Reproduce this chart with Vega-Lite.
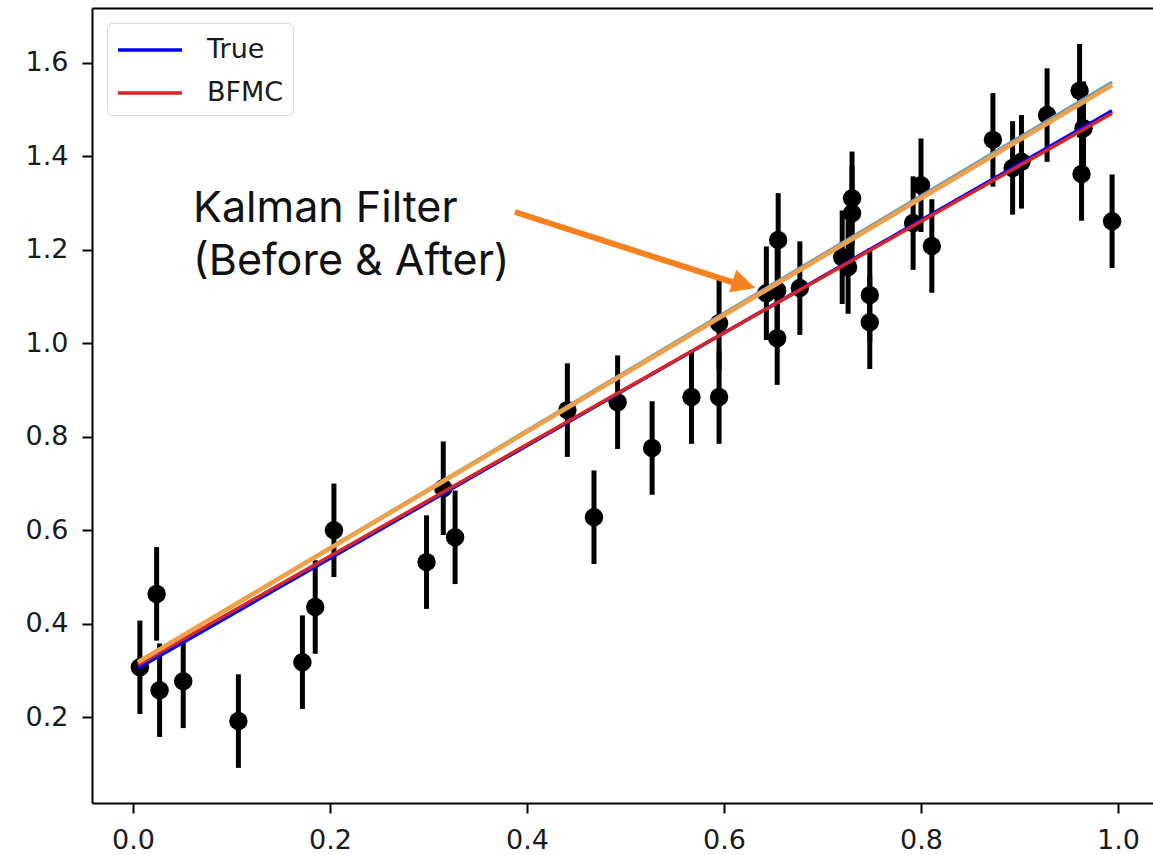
{
  "$schema": "https://vega.github.io/schema/vega-lite/v6.json",
  "autosize": {"type": "none"},
  "padding": {"left": 92, "top": 8, "right": 0, "bottom": 52},
  "width": 1061,
  "height": 795,
  "background": "white",
  "config": {
    "view": {"stroke": null},
    "axis": {
      "grid": false,
      "title": null,
      "domainColor": "black",
      "domainWidth": 2,
      "tickColor": "black",
      "tickWidth": 2,
      "tickSize": 10,
      "labelFont": "DejaVu Sans",
      "labelFontSize": 27,
      "labelColor": "#1a1a1a",
      "labelPadding": 14
    },
    "legend": {
      "orient": "top-left",
      "offset": 15,
      "title": null,
      "fillColor": "white",
      "strokeColor": "#d9d9d9",
      "cornerRadius": 5,
      "padding": 9,
      "symbolType": "M-1,0H3",
      "symbolSize": 1024,
      "symbolStrokeWidth": 3.5,
      "symbolFillColor": "transparent",
      "labelFont": "DejaVu Sans",
      "labelFontSize": 27,
      "labelColor": "#1a1a1a",
      "labelOffset": 55,
      "rowPadding": 12
    }
  },
  "datasets": {
    "obs": [
      {"x": 0.007, "y": 0.307, "err": 0.1},
      {"x": 0.024, "y": 0.464, "err": 0.1},
      {"x": 0.027, "y": 0.258, "err": 0.1},
      {"x": 0.051, "y": 0.277, "err": 0.1},
      {"x": 0.107, "y": 0.192, "err": 0.1},
      {"x": 0.172, "y": 0.318, "err": 0.1},
      {"x": 0.185, "y": 0.436, "err": 0.1},
      {"x": 0.204, "y": 0.600, "err": 0.1},
      {"x": 0.298, "y": 0.532, "err": 0.1},
      {"x": 0.315, "y": 0.690, "err": 0.1},
      {"x": 0.327, "y": 0.585, "err": 0.1},
      {"x": 0.441, "y": 0.857, "err": 0.1},
      {"x": 0.468, "y": 0.628, "err": 0.1},
      {"x": 0.492, "y": 0.874, "err": 0.1},
      {"x": 0.527, "y": 0.776, "err": 0.1},
      {"x": 0.567, "y": 0.885, "err": 0.1},
      {"x": 0.595, "y": 0.885, "err": 0.1},
      {"x": 0.595, "y": 1.043, "err": 0.1},
      {"x": 0.643, "y": 1.107, "err": 0.1},
      {"x": 0.655, "y": 1.221, "err": 0.1},
      {"x": 0.654, "y": 1.113, "err": 0.1},
      {"x": 0.654, "y": 1.011, "err": 0.1},
      {"x": 0.677, "y": 1.118, "err": 0.1},
      {"x": 0.720, "y": 1.184, "err": 0.1},
      {"x": 0.730, "y": 1.310, "err": 0.1},
      {"x": 0.730, "y": 1.278, "err": 0.1},
      {"x": 0.726, "y": 1.163, "err": 0.1},
      {"x": 0.748, "y": 1.103, "err": 0.1},
      {"x": 0.748, "y": 1.045, "err": 0.1},
      {"x": 0.792, "y": 1.257, "err": 0.1},
      {"x": 0.800, "y": 1.338, "err": 0.1},
      {"x": 0.811, "y": 1.208, "err": 0.1},
      {"x": 0.873, "y": 1.435, "err": 0.1},
      {"x": 0.893, "y": 1.375, "err": 0.1},
      {"x": 0.902, "y": 1.388, "err": 0.1},
      {"x": 0.928, "y": 1.488, "err": 0.1},
      {"x": 0.961, "y": 1.540, "err": 0.1},
      {"x": 0.965, "y": 1.460, "err": 0.1},
      {"x": 0.963, "y": 1.362, "err": 0.1},
      {"x": 0.994, "y": 1.261, "err": 0.1}
    ],
    "fits": [
      {"series": "True", "x": 0.005, "y": 0.305},
      {"series": "True", "x": 0.994, "y": 1.497},
      {"series": "BFMC", "x": 0.005, "y": 0.312},
      {"series": "BFMC", "x": 0.994, "y": 1.492}
    ],
    "kalmanBefore": [
      {"x": 0.005, "y": 0.318},
      {"x": 0.994, "y": 1.558}
    ],
    "kalmanAfter": [
      {"x": 0.005, "y": 0.318},
      {"x": 0.994, "y": 1.552}
    ],
    "note": [
      {"x": 0.061, "y": 1.2593, "text": "Kalman Filter"},
      {"x": 0.061, "y": 1.146, "text": "(Before & After)"}
    ],
    "arrowShaft": [
      {"x": 0.3878, "y": 1.2807},
      {"x": 0.6091, "y": 1.130}
    ],
    "arrowHead": [
      {"x": 0.6203, "y": 1.1257}
    ]
  },
  "resolve": {"axis": {"x": "independent"}},
  "layer": [
    {
      "data": {"name": "obs"},
      "mark": {"type": "errorbar", "ticks": false, "thickness": 5, "color": "black"},
      "encoding": {
        "x": {"field": "x", "type": "quantitative", "title": null, "scale": {"domain": [-0.04162, 1.03553], "nice": false, "zero": false},
              "axis": {"values": [0, 0.2, 0.4, 0.6, 0.8, 1.0], "format": ".1f"}},
        "y": {"field": "y", "type": "quantitative", "title": null, "scale": {"domain": [0.01681, 1.71698], "nice": false, "zero": false},
              "axis": {"values": [0.2, 0.4, 0.6, 0.8, 1.0, 1.2, 1.4, 1.6], "format": ".1f", "title": null}},
        "yError": {"field": "err"}
      }
    },
    {
      "data": {"name": "obs"},
      "mark": {"type": "circle", "size": 340, "color": "black", "opacity": 1},
      "encoding": {
        "x": {"field": "x", "type": "quantitative", "title": null, "scale": {"domain": [-0.04162, 1.03553], "nice": false, "zero": false},
              "axis": {"orient": "top", "labels": false, "ticks": false, "domain": true}},
        "y": {"field": "y", "type": "quantitative", "title": null, "scale": {"domain": [0.01681, 1.71698], "nice": false, "zero": false}}
      }
    },
    {
      "data": {"name": "fits"},
      "mark": {"type": "line", "strokeWidth": 3.5},
      "encoding": {
        "x": {"field": "x", "type": "quantitative", "scale": {"domain": [-0.04162, 1.03553], "nice": false, "zero": false}, "axis": null},
        "y": {"field": "y", "type": "quantitative", "title": null, "scale": {"domain": [0.01681, 1.71698], "nice": false, "zero": false}},
        "color": {"field": "series", "type": "nominal",
                  "scale": {"domain": ["True", "BFMC"], "range": ["#0000ff", "#d62728"]},
                  "sort": ["True", "BFMC"]}
      }
    },
    {
      "data": {"name": "kalmanBefore"},
      "mark": {"type": "line", "strokeWidth": 3.5, "color": "#6f9bb8"},
      "encoding": {
        "x": {"field": "x", "type": "quantitative", "scale": {"domain": [-0.04162, 1.03553], "nice": false, "zero": false}, "axis": null},
        "y": {"field": "y", "type": "quantitative", "title": null, "scale": {"domain": [0.01681, 1.71698], "nice": false, "zero": false}}
      }
    },
    {
      "data": {"name": "kalmanAfter"},
      "mark": {"type": "line", "strokeWidth": 4.5, "color": "#f0a048"},
      "encoding": {
        "x": {"field": "x", "type": "quantitative", "scale": {"domain": [-0.04162, 1.03553], "nice": false, "zero": false}, "axis": null},
        "y": {"field": "y", "type": "quantitative", "title": null, "scale": {"domain": [0.01681, 1.71698], "nice": false, "zero": false}}
      }
    },
    {
      "data": {"name": "arrowShaft"},
      "mark": {"type": "line", "strokeWidth": 6, "color": "#f5821f"},
      "encoding": {
        "x": {"field": "x", "type": "quantitative", "scale": {"domain": [-0.04162, 1.03553], "nice": false, "zero": false}, "axis": null},
        "y": {"field": "y", "type": "quantitative", "title": null, "scale": {"domain": [0.01681, 1.71698], "nice": false, "zero": false}}
      }
    },
    {
      "data": {"name": "arrowHead"},
      "mark": {"type": "point", "shape": "M-1,-1L1,0L-1,1Z", "filled": true, "size": 560, "angle": 17.6, "color": "#f5821f", "opacity": 1},
      "encoding": {
        "x": {"field": "x", "type": "quantitative", "scale": {"domain": [-0.04162, 1.03553], "nice": false, "zero": false}, "axis": null},
        "y": {"field": "y", "type": "quantitative", "title": null, "scale": {"domain": [0.01681, 1.71698], "nice": false, "zero": false}}
      }
    },
    {
      "data": {"name": "note"},
      "mark": {"type": "text", "align": "left", "baseline": "alphabetic", "font": "Inter", "fontSize": 43, "color": "#111111"},
      "encoding": {
        "x": {"field": "x", "type": "quantitative", "scale": {"domain": [-0.04162, 1.03553], "nice": false, "zero": false}, "axis": null},
        "y": {"field": "y", "type": "quantitative", "title": null, "scale": {"domain": [0.01681, 1.71698], "nice": false, "zero": false}},
        "text": {"field": "text", "type": "nominal"}
      }
    }
  ]
}
